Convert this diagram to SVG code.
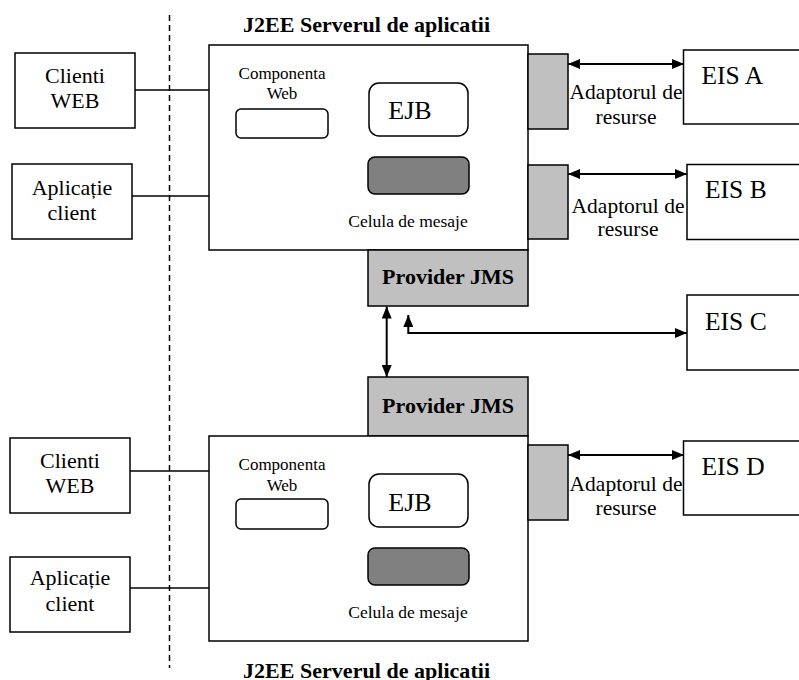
<svg xmlns="http://www.w3.org/2000/svg" width="799" height="680" viewBox="0 0 799 680">
<style>
.box{fill:#fff;stroke:#000;stroke-width:1.5}
.gray{fill:#c0c0c0;stroke:#000;stroke-width:1.5}
.dark{fill:#808080;stroke:#000;stroke-width:1.5}
.c{text-anchor:middle}
.b{font-weight:bold}
.ln{stroke:#000;stroke-width:1.5;fill:none}
.ar{stroke:#000;stroke-width:2;fill:none}
</style>
<defs>
<marker id="ah" viewBox="0 0 12 10" refX="12" refY="5" markerWidth="12" markerHeight="10" markerUnits="userSpaceOnUse" orient="auto-start-reverse">
<path d="M0,0 L12,5 L0,10 z" fill="#000"/>
</marker>
</defs>
<rect width="799" height="680" fill="#fff"/>
<line x1="169.5" y1="15" x2="169.5" y2="668" stroke="#000" stroke-width="1.5" stroke-dasharray="6,4"/>
<g font-family="Liberation Serif, serif" fill="#000">
<text class="b" x="243" y="32" font-size="22" textLength="247">J2EE Serverul de aplicatii</text>
<text class="b" x="243" y="678" font-size="22" textLength="247">J2EE Serverul de aplicatii</text>
</g>

<g id="connectors">
<line class="ln" x1="135" y1="90" x2="209" y2="90"/>
<line class="ln" x1="132" y1="196" x2="209" y2="196"/>
<line class="ln" x1="130" y1="471" x2="209" y2="471"/>
<line class="ln" x1="130" y1="588" x2="209" y2="588"/>
<line class="ar" x1="568" y1="64" x2="684" y2="64" marker-start="url(#ah)" marker-end="url(#ah)"/>
<line class="ar" x1="568" y1="174" x2="687" y2="174" marker-start="url(#ah)" marker-end="url(#ah)"/>
<line class="ar" x1="568" y1="455" x2="684" y2="455" marker-start="url(#ah)" marker-end="url(#ah)"/>
<line class="ar" x1="386.7" y1="306.5" x2="386.7" y2="377" marker-start="url(#ah)" marker-end="url(#ah)"/>
<polyline class="ar" points="408.3,315 408.3,333 687,333" marker-start="url(#ah)" marker-end="url(#ah)"/>
</g>

<g font-family="Liberation Serif, serif" fill="#000">
<g id="clienti-web-1">
<rect class="box" x="15" y="53" width="120" height="75"/>
<text class="c" x="75" y="83" font-size="22">Clienti</text>
<text class="c" x="75" y="108" font-size="22">WEB</text>
</g>
<g id="aplicatie-client-1">
<rect class="box" x="12" y="164" width="120" height="75"/>
<text class="c" x="72" y="195" font-size="22">Aplicație</text>
<text class="c" x="72" y="220" font-size="22">client</text>
</g>
<g id="server-1">
<rect class="box" x="209" y="45" width="319" height="205"/>
<text class="c" x="282" y="79" font-size="17">Componenta</text>
<text class="c" x="282" y="99" font-size="17">Web</text>
<rect class="box" x="236" y="109" width="92" height="29" rx="5"/>
<rect class="box" x="369" y="83" width="99" height="53" rx="10"/>
<text class="c" x="410" y="119" font-size="26">EJB</text>
<rect class="dark" x="368" y="157" width="101" height="37" rx="7"/>
<text class="c" x="408" y="227" font-size="17.5">Celula de mesaje</text>
</g>
<g id="adaptor-a">
<rect class="gray" x="528" y="54" width="40" height="75"/>
<text class="c" x="626" y="99" font-size="21.5">Adaptorul de</text>
<text class="c" x="626" y="124" font-size="21.5">resurse</text>
</g>
<g id="eis-a">
<rect class="box" x="683.5" y="50" width="140" height="74"/>
<text x="701.5" y="84" font-size="25.5">EIS A</text>
</g>
<g id="adaptor-b">
<rect class="gray" x="528" y="165" width="40" height="74"/>
<text class="c" x="628" y="213" font-size="21.5">Adaptorul de</text>
<text class="c" x="628" y="236" font-size="21.5">resurse</text>
</g>
<g id="eis-b">
<rect class="box" x="687" y="164.5" width="140" height="75"/>
<text x="705" y="198" font-size="25.5">EIS B</text>
</g>
<g id="provider-jms-1">
<rect class="gray" x="368" y="250" width="160" height="56"/>
<text class="c b" x="448" y="284" font-size="22">Provider JMS</text>
</g>
<g id="eis-c">
<rect class="box" x="687" y="295" width="140" height="75"/>
<text x="705" y="330" font-size="25.5">EIS C</text>
</g>
<g id="provider-jms-2">
<rect class="gray" x="368" y="377" width="160" height="59"/>
<text class="c b" x="448" y="413" font-size="22">Provider JMS</text>
</g>

<g id="clienti-web-2">
<rect class="box" x="10" y="438" width="120" height="75"/>
<text class="c" x="70" y="468" font-size="22">Clienti</text>
<text class="c" x="70" y="493" font-size="22">WEB</text>
</g>
<g id="aplicatie-client-2">
<rect class="box" x="10" y="557" width="120" height="75"/>
<text class="c" x="70" y="585" font-size="22">Aplicație</text>
<text class="c" x="70" y="611" font-size="22">client</text>
</g>
<g id="server-2">
<rect class="box" x="209" y="436" width="319" height="205"/>
<text class="c" x="282" y="470" font-size="17">Componenta</text>
<text class="c" x="282" y="491" font-size="17">Web</text>
<rect class="box" x="236" y="499" width="92" height="30" rx="5"/>
<rect class="box" x="369" y="474" width="99" height="53" rx="10"/>
<text class="c" x="410" y="511" font-size="26">EJB</text>
<rect class="dark" x="368" y="548" width="101" height="37" rx="7"/>
<text class="c" x="408" y="618" font-size="17.5">Celula de mesaje</text>
</g>
<g id="adaptor-d">
<rect class="gray" x="528" y="445" width="40" height="75"/>
<text class="c" x="626" y="491" font-size="21.5">Adaptorul de</text>
<text class="c" x="626" y="515" font-size="21.5">resurse</text>
</g>
<g id="eis-d">
<rect class="box" x="683.5" y="441" width="140" height="74"/>
<text x="701.5" y="475" font-size="25.5">EIS D</text>
</g>
</g>
</svg>
